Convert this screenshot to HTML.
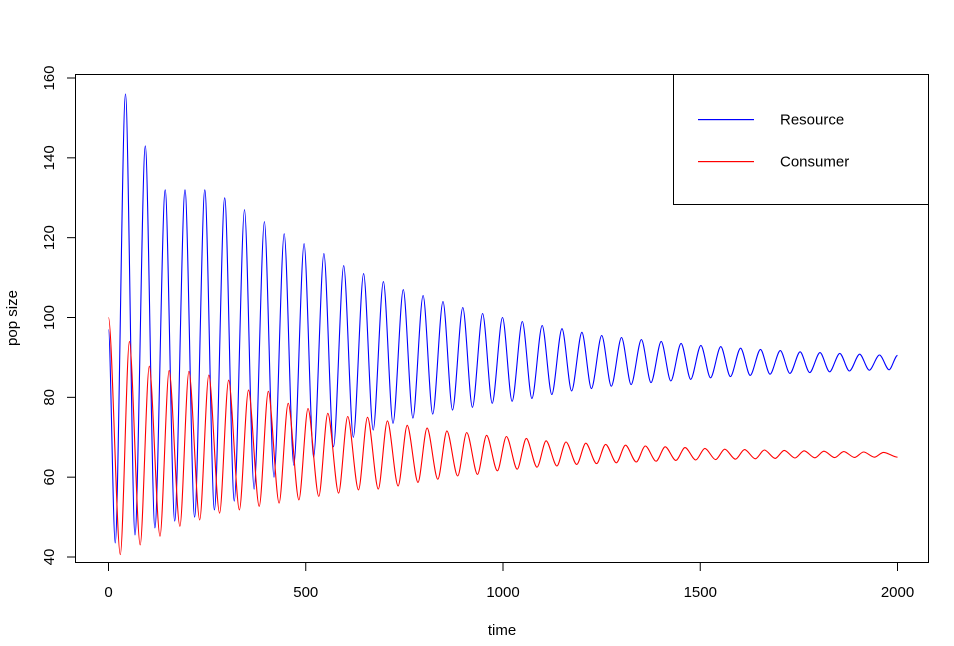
<!DOCTYPE html>
<html><head><meta charset="utf-8"><style>
body{margin:0;background:#fff}
svg{display:block;font-family:"Liberation Sans",Arial,sans-serif}
</style></head><body>
<svg id="c" width="954" height="646">
<rect x="75.5" y="74.5" width="853" height="488" fill="none" stroke="#000"/>
<g id="axes"></g>
<g id="series"></g>
<text x="502" y="635" font-size="15" text-anchor="middle">time</text>
<text x="0" y="0" font-size="15" text-anchor="middle" transform="translate(17,318) rotate(-90)">pop size</text>
<g>
<rect x="673.5" y="74.5" width="255" height="130" fill="#fff" stroke="#000"/>
<rect x="698" y="119" width="56" height="1.2" fill="#0000ff"/>
<text x="780" y="124.5" font-size="15">Resource</text>
<rect x="698" y="161" width="56" height="1.2" fill="#ff0000"/>
<text x="780" y="166.5" font-size="15">Consumer</text>
</g>
</svg>
<script>
const xTicks=[0,500,1000,1500,2000];
const yTicks=[40,60,80,100,120,140,160];
const resourceStart=97, consumerStart=100;
const resourceEnd=90.5, consumerEnd=65;
const resourcePeaks=[156,143,132,132,132,130,127,124,121,118.5,116,113,111,109,107,105.5,104,102.5,101,100,99,98,97.2,96.3,95.5,95,94.5,94,93.5,93,92.7,92.3,92,91.7,91.4,91.2,91,90.8,90.6];
const resourceTroughs=[43.5,45.5,47.3,49,50,51.8,54,57,60,63,65,67.6,70,71.8,73.5,74.8,75.8,76.8,77.5,78.5,79,79.7,80.7,81.6,82.2,82.8,83.2,83.7,84.1,84.5,84.9,85.2,85.5,85.8,86,86.2,86.4,86.6,86.8,86.9];
const consumerPeaks=[94,87.8,86.7,86.5,85.6,84.3,81.8,81.5,78.5,77.2,76,75.2,75,74.1,73,72.3,71.6,71.2,70.5,70.2,69.7,69.1,68.8,68.5,68.2,68,67.8,67.6,67.4,67.2,67,66.9,66.8,66.7,66.6,66.5,66.4,66.3,66.2];
const consumerTroughs=[40.6,43,45.2,47.7,49.3,51,51.8,52.7,53.5,54.3,55.2,56,56.8,57,57.8,58.7,59.5,60.3,60.7,61.6,62,62.5,62.8,63.2,63.4,63.6,63.8,64,64.2,64.3,64.4,64.5,64.6,64.7,64.8,64.85,64.9,64.95,65];
const period=50.3, resPeakT=43, resTroughT=17, conPeakT=53, conTroughT=30;

const NS="http://www.w3.org/2000/svg";
const X=t=>108.5+t*(897.5-108.5)/2000;
const Y=v=>557-(v-40)*(557-78)/120;
const ax=document.getElementById('axes');
function mk(tag,attrs,parent){const e=document.createElementNS(NS,tag);for(const k in attrs)e.setAttribute(k,attrs[k]);parent.appendChild(e);return e;}
xTicks.forEach(t=>{
  const l=mk('line',{x1:X(t),x2:X(t),y1:562,y2:571,stroke:'#000'},ax);
  
  
  const tx=mk('text',{x:X(t),y:597,'font-size':15,'text-anchor':'middle'},ax);tx.textContent=t;
  
  
});
yTicks.forEach(v=>{
  const l=mk('line',{x1:67,x2:75,y1:Y(v),y2:Y(v),stroke:'#000'},ax);
  
  
  const tx=mk('text',{x:0,y:0,'font-size':15,'text-anchor':'middle',transform:`translate(54,${Y(v)}) rotate(-90)`},ax);tx.textContent=v;
  
  
});
function build(start,end,peaks,troughs,pT,tT){
  const pts=[[0,start]];
  peaks.forEach((v,k)=>pts.push([pT+period*k,v]));
  troughs.forEach((v,k)=>pts.push([tT+period*k,v]));
  pts.push([2000,end]);
  return pts.filter(p=>p[0]<=2000).sort((a,b)=>a[0]-b[0]);
}
const sg=document.getElementById('series');
function draw(pts,color,name){
  let d='M'+X(pts[0][0]).toFixed(1)+','+Y(pts[0][1]).toFixed(1);
  for(let i=1;i<pts.length;i++){
    const x0=X(pts[i-1][0]),y0=Y(pts[i-1][1]),x1=X(pts[i][0]),y1=Y(pts[i][1]);
    const dx=(x1-x0)*0.3;
    d+=' C'+(x0+dx).toFixed(1)+','+y0.toFixed(1)+' '+(x1-dx).toFixed(1)+','+y1.toFixed(1)+' '+x1.toFixed(1)+','+y1.toFixed(1);
  }
  const p=mk('path',{d:d,fill:'none',stroke:color,'stroke-width':1.1},sg);
  
  
}
draw(build(resourceStart,resourceEnd,resourcePeaks,resourceTroughs,resPeakT,resTroughT),'#0000ff','resource-line');
draw(build(consumerStart,consumerEnd,consumerPeaks,consumerTroughs,conPeakT,conTroughT),'#ff0000','consumer-line');
</script>
</body></html>
